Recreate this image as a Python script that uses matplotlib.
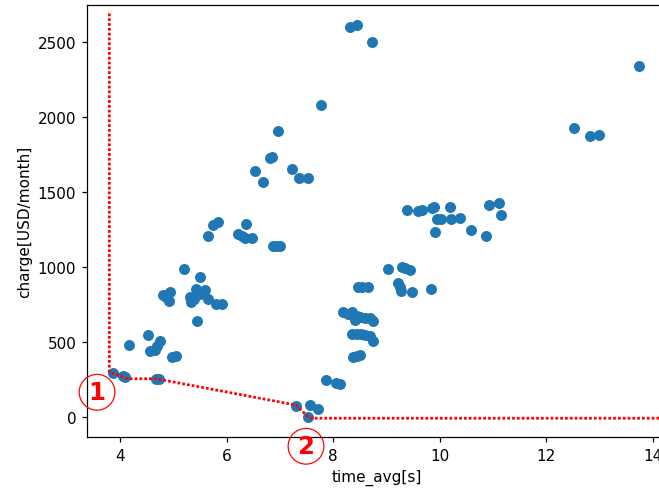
import numpy as np
import matplotlib.pyplot as plt

time_avg = [3.86, 4.06, 4.10, 4.68, 4.73, 4.17, 4.52, 4.56, 4.66, 4.75, 4.70,
            4.97, 5.06, 4.81, 4.94, 4.92, 4.86, 5.21, 5.51, 5.31, 5.43, 5.59,
            5.34, 5.66, 5.81, 5.91, 5.45, 5.50, 5.38,
            5.66, 5.75, 5.84, 6.36, 6.22, 6.35, 6.47, 6.28, 6.88, 6.94, 7.00,
            6.53, 6.68, 6.81, 6.85, 6.96, 7.23, 7.36, 7.53, 7.78, 8.32, 8.44, 8.73,
            7.30, 7.56, 7.72, 7.52, 7.86, 8.05, 8.12,
            8.19, 8.28, 8.35, 8.44, 8.50, 8.60, 8.69, 8.75, 8.47, 8.55, 8.66,
            8.35, 8.45, 8.53, 8.60, 8.69, 8.74, 8.37, 8.44, 8.50, 8.40,
            9.03, 9.30, 9.44, 9.35, 9.22, 9.27, 9.47, 9.83, 9.25,
            9.38, 9.60, 9.66, 9.85, 9.89, 9.94, 10.03, 10.21, 10.37, 10.20,
            9.91, 10.58, 10.87, 10.93, 11.12, 11.14, 12.51, 12.81, 12.98, 13.74]
charge = [293, 271, 264, 253, 253, 480, 549, 442, 445, 509, 475,
          402, 409, 816, 831, 771, 800, 987, 936, 798, 853, 849,
          764, 787, 753, 753, 642, 820, 790,
          1209, 1282, 1297, 1287, 1220, 1191, 1191, 1205, 1142, 1142, 1142,
          1638, 1564, 1727, 1731, 1904, 1653, 1591, 1591, 2082, 2602, 2613, 2502,
          76, 80, 53, -2, 247, 225, 222,
          698, 690, 698, 675, 664, 660, 658, 642, 870, 870, 864,
          553, 553, 553, 545, 542, 509, 400, 409, 413, 650,
          987, 1002, 982, 995, 891, 842, 836, 853, 870,
          1382, 1376, 1382, 1391, 1398, 1320, 1320, 1320, 1324, 1398,
          1236, 1249, 1204, 1413, 1427, 1349, 1927, 1871, 1880, 2338]

# red dotted frontier
line_x = [3.80, 3.80, 4.15, 4.68, 7.30, 7.52, 7.58, 14.6]
line_y = [2690, 300, 255, 255, 80, 5, -8, -8]

marks = ['1', '2']
mark_x = [3.57, 7.49]
mark_y = [165, -195]

fig = plt.figure(figsize=(659 / 110, 490 / 110), dpi=110)
ax = fig.add_axes([0.132, 0.1061, 0.8786, 0.8817])

ax.scatter(time_avg, charge, s=38)
ax.plot(line_x, line_y, color='red', lw=1.8, linestyle=(0, (1, 0.75)))

for m, mx, my in zip(marks, mark_x, mark_y):
    ax.text(mx, my, m, color='red', fontsize=16, fontweight='bold',
            ha='center', va='center', clip_on=False, zorder=5,
            bbox=dict(boxstyle='circle,pad=0.24', fc='none', ec='red', lw=0.8))

ax.set_xlim(3.381, 14.244)
ax.set_ylim(-133.3, 2746.7)
ax.set_xticks([4, 6, 8, 10, 12, 14])
ax.set_yticks([0, 500, 1000, 1500, 2000, 2500])
ax.set_xlabel('time_avg[s]')
ax.set_ylabel('charge[USD/month]')

plt.savefig('out.png', dpi=110)
